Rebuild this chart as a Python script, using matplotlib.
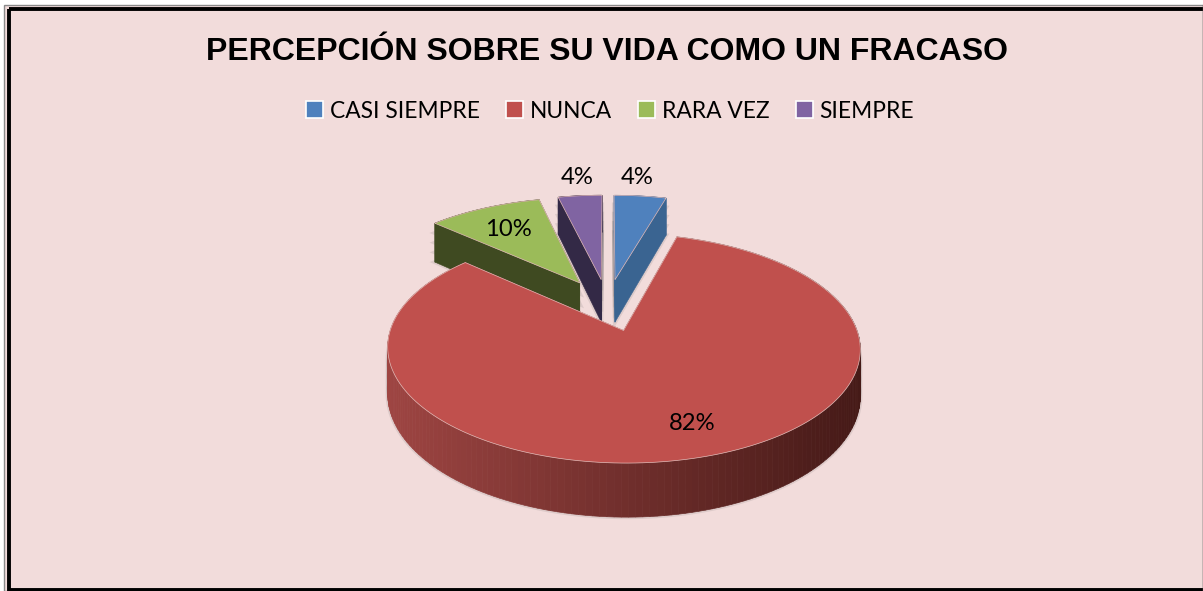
# -*- coding: utf-8 -*-
import numpy as np
import matplotlib
matplotlib.use('Agg')
import matplotlib.pyplot as plt
from matplotlib.patches import Polygon, Patch, Rectangle

titulo = 'PERCEPCIÓN SOBRE SU VIDA COMO UN FRACASO'
categorias = ['CASI SIEMPRE', 'NUNCA', 'RARA VEZ', 'SIEMPRE']
valores = [4.4, 82.3, 9.6, 3.7]
colores = ['#4F81BD', '#C0504D', '#9BBB59', '#8064A2']
paredes = ['#3A6491', '#8F3B39', '#3F4A21', '#332946']

# perspectiva del pastel (pixeles de la imagen)
CX, CY = 607.5, 304.6
ESC_X, ESC_Y = 225, 104
K = 0.15
PROF = 44
EXPL = 0.25


def proy(u, v, z=0.0):
    w = 1 + K * np.asarray(v)
    return np.column_stack([CX + ESC_X * np.asarray(u) / w,
                            CY + (PROF * z - ESC_Y * np.asarray(v)) / w])


fig = plt.figure(figsize=(12.03, 5.91), dpi=100, facecolor='white')
ax = fig.add_axes([0, 0, 1, 1])
ax.set_xlim(0, 1203)
ax.set_ylim(591, 0)
ax.axis('off')

# marco
ax.add_patch(Rectangle((4, 5), 1199, 586, fc='#F2DCDB', ec='#8a8a8a', lw=1, zorder=0))
ax.add_patch(Rectangle((8.5, 9), 1196, 581, fc='none', ec='black', lw=2.8, zorder=0.5))
ax.plot([1202.5, 1202.5], [5, 591], color='#6b5f5f', lw=1, zorder=0.6)

# angulos de cada porcion, medidos desde arriba en sentido horario
fin = np.cumsum(valores) / np.sum(valores) * 2 * np.pi
ini = np.r_[0, fin[:-1]]
orden = np.argsort(-np.cos((ini + fin) / 2))

z = 1
for i in orden:
    medio = (ini[i] + fin[i]) / 2
    u0, v0 = EXPL * np.sin(medio), EXPL * np.cos(medio)
    t = np.linspace(ini[i], fin[i], 200)
    u = np.r_[u0, u0 + np.sin(t)]
    v = np.r_[v0, v0 + np.cos(t)]

    # sombra suave
    for prof in (0.25, 0.5, 0.75, 1.0):
        ax.add_patch(Polygon(proy(u, v, prof), fc='none', ec='#555555', lw=3,
                             alpha=0.13, zorder=z))
    z += 1

    # caras radiales
    for j in (1, len(u) - 1):
        cara = np.vstack([proy(u[[0, j]], v[[0, j]]), proy(u[[j, 0]], v[[j, 0]], 1.0)])
        ax.add_patch(Polygon(cara, fc=paredes[i], ec=paredes[i], lw=0.4, zorder=z))
    z += 1

    # pared exterior con degradado
    arr = proy(u[1:], v[1:])
    aba = proy(u[1:], v[1:], 1.0)
    for j in range(len(arr) - 1):
        if i == 1:
            f = np.clip((arr[j, 0] - 388) / (861 - 388), 0, 1)
            col = (1 - f) * np.array([0.62, 0.27, 0.26]) + f * np.array([0.27, 0.10, 0.09])
        else:
            col = paredes[i]
        ax.add_patch(Polygon([arr[j], arr[j + 1], aba[j + 1], aba[j]],
                             fc=col, ec=col, lw=0.5, zorder=z))
    z += 1

    # cara superior
    ax.add_patch(Polygon(proy(u, v), fc=colores[i], ec='#E2B9B6', lw=0.5, zorder=z))
    z += 1

# etiquetas de porcentaje
pos_etq = [(637, 178), (692, 424), (508, 230), (577, 178)]
for val, (x, y) in zip(valores, pos_etq):
    ax.text(x, y, '%d%%' % round(val), ha='center', va='center', fontsize=17.2,
            family='Lato', color='black', zorder=z + 1)

ax.text(607, 52, titulo, ha='center', va='center', fontsize=23, fontweight='bold',
        family='Liberation Sans', color='black', zorder=z + 1)

marcas = [Patch(fc=c, ec='white', lw=1.2) for c in colores]
ax.legend(marcas, categorias, ncol=4, loc='center', bbox_to_anchor=(610, 111),
          bbox_transform=ax.transData, frameon=False, handlelength=0.75, handleheight=0.75,
          handletextpad=0.3, columnspacing=1.15,
          prop={'family': 'Lato', 'size': 16.4})

fig.savefig('out.png', dpi=100)
